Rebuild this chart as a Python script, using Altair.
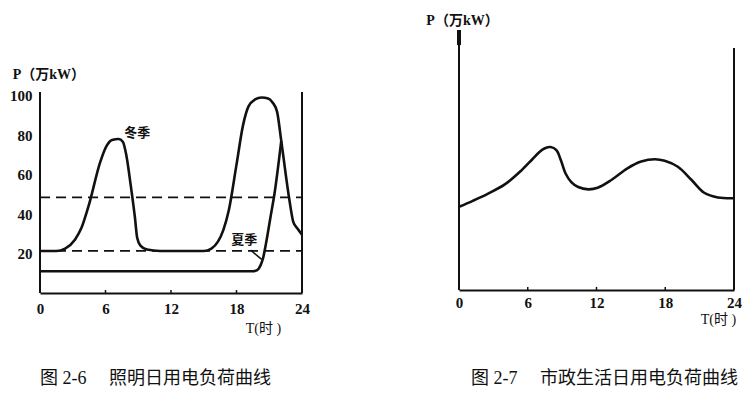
import altair as alt
import pandas as pd

# ---------------- data ----------------
hours = [0, 6, 12, 18, 24]
p_ticks = [20, 40, 60, 80, 100]

# Fig 2-6 : lighting load (万kW)
winter_t = [0, 1.5, 2.3, 3.2, 3.8, 4.5, 5.5, 6.1, 6.6, 7.2, 7.6, 7.9, 8.3, 8.7, 8.9, 9.2, 9.8, 11,
            15, 15.7, 16.3, 16.8, 17.3, 18, 18.6, 19.1, 19.7, 20.3, 20.9, 21.3, 21.72, 22.1, 22.85,
            23.2, 23.6, 24]
winter_p = [21.3, 21.3, 22.5, 27, 33, 45, 66, 74.5, 77.5, 78, 76.5, 70, 55, 38, 28, 24, 22, 21.3,
            21.3, 22.5, 26, 32, 42, 65, 85, 94.5, 98, 99, 98.5, 96.5, 91.7, 77, 47,
            36, 32.5, 29.5]
summer_t = [0, 19.5, 19.9, 20.2, 20.45, 20.7, 21.1, 21.5, 22.1]
summer_p = [11, 11, 11.6, 14, 18, 25, 38, 51, 77]
dash_levels = [48.4, 21.3]
leader_t = [19.3, 20.3]
leader_p = [21.7, 17]

# Fig 2-7 : municipal load (relative)
muni_t = [0, 1.2, 2.5, 4, 5.4, 6.4, 7.0, 7.5, 8.0, 8.5, 8.9, 9.3, 9.8, 10.4, 11.3, 12.1, 13.3,
          14.7, 15.9, 17.1, 17.95, 19.1, 20.3, 21.4, 22.6, 24]
muni_p = [32, 34.3, 37, 40.6, 45.8, 50.3, 53.0, 54.5, 55.0, 53.8, 49.8, 44.8, 41.5, 39.6, 38.7,
          39.3, 42.3, 46.8, 49.4, 50.3, 49.7, 47.4, 42.3, 37.4, 35.6, 35.3]

FONT = "Liberation Serif, Noto Sans CJK SC"
BLACK = "#111111"
GAP = "\u00a0\u00a0\u00a0\u00a0\u00a0"

# ---------------- panel 1 ----------------
X1 = alt.X("t:Q", scale=alt.Scale(domain=[0, 24], nice=False, zero=False),
           axis=alt.Axis(values=hours, format="d", title="T(时 )", grid=False, ticks=False,
                         domain=True, domainColor=BLACK, domainWidth=2, labelFlush=False,
                         labelFont=FONT, labelFontSize=15, labelFontWeight="bold",
                         labelColor=BLACK, labelPadding=8, labelAngle=0,
                         titleFont=FONT, titleFontSize=14, titleFontWeight="normal",
                         titleColor=BLACK, titleX=223, titleY=35, titleAlign="center",
                         titleBaseline="middle"))
Y1 = alt.Y("p:Q", scale=alt.Scale(domain=[0, 143.3], nice=False, zero=False),
           axis=alt.Axis(values=p_ticks, title=None, grid=False, ticks=False, domain=False,
                         labelFont=FONT, labelFontSize=15, labelFontWeight="bold",
                         labelColor=BLACK, labelPadding=8))

winter_df = pd.DataFrame({"t": winter_t, "p": winter_p})
summer_df = pd.DataFrame({"t": summer_t, "p": summer_p})
dash_df = pd.DataFrame({"t": [0] * len(dash_levels), "t2": [24] * len(dash_levels), "p": dash_levels})
frame1_df = pd.DataFrame({"t": [0, 24], "p": [0, 0], "p2": [101.8, 101.8]})
tick1_df = pd.DataFrame({"t": [6, 12, 18], "p": [0, 0, 0], "p2": [1.5, 1.5, 1.5]})
leader_df = pd.DataFrame({"t": leader_t, "p": leader_p})
lab1_df = pd.DataFrame({"t": [8.9, 18.7], "p": [80.8, 26.7], "label": ["冬季", "夏季"]})
ptitle1_df = pd.DataFrame({"t": [-2.5], "p": [110.3], "label": ["P（万kW）"]})

winter = alt.Chart(winter_df).mark_line(color=BLACK, strokeWidth=2.6, interpolate="monotone").encode(x=X1, y=Y1)
summer = alt.Chart(summer_df).mark_line(color=BLACK, strokeWidth=2.6, interpolate="monotone").encode(x=X1, y=Y1)
dashes = alt.Chart(dash_df).mark_rule(color=BLACK, strokeWidth=1.8, strokeDash=[10, 6]).encode(x=X1, x2="t2", y=Y1)
frame1 = alt.Chart(frame1_df).mark_rule(color=BLACK, strokeWidth=2).encode(x=X1, y=Y1, y2="p2")
ticks1 = alt.Chart(tick1_df).mark_rule(color=BLACK, strokeWidth=1.5).encode(x=X1, y=Y1, y2="p2")
leader = alt.Chart(leader_df).mark_line(color=BLACK, strokeWidth=1.5).encode(x=X1, y=Y1)
labels1 = alt.Chart(lab1_df).mark_text(font=FONT, fontSize=13, fontWeight="bold", color=BLACK,
                                       align="center", baseline="middle").encode(x=X1, y=Y1, text="label")
ptitle1 = alt.Chart(ptitle1_df).mark_text(font=FONT, fontSize=14, fontWeight="bold", color=BLACK,
                                          align="left", baseline="middle").encode(x=X1, y=Y1, text="label")

panel1 = alt.layer(frame1, ticks1, dashes, winter, summer, leader, labels1, ptitle1).properties(
    width=262, height=283,
    title=alt.TitleParams("图 2-6" + GAP + "照明日用电负荷曲线", orient="bottom", anchor="start",
                          frame="group", font=FONT, fontSize=18, fontWeight="normal", color=BLACK,
                          offset=35))

# ---------------- panel 2 ----------------
X2 = alt.X("t:Q", scale=alt.Scale(domain=[0, 24], nice=False, zero=False),
           axis=alt.Axis(values=hours, format="d", title="T(时 )", grid=False, ticks=False,
                         domain=True, domainColor=BLACK, domainWidth=2, labelFlush=False,
                         labelFont=FONT, labelFontSize=15, labelFontWeight="bold",
                         labelColor=BLACK, labelPadding=5, labelAngle=0,
                         titleFont=FONT, titleFontSize=14, titleFontWeight="normal",
                         titleColor=BLACK, titleX=259, titleY=29, titleAlign="center",
                         titleBaseline="middle"))
Y2 = alt.Y("p:Q", scale=alt.Scale(domain=[0, 107.7], nice=False, zero=False), axis=None)

muni_df = pd.DataFrame({"t": muni_t, "p": muni_p})
frame2_df = pd.DataFrame({"t": [0, 24], "p": [0, 0], "p2": [100, 93.1]})
arrow_df = pd.DataFrame({"t": [0], "p": [94.2], "p2": [100]})
tick2_df = pd.DataFrame({"t": [6, 12, 18], "p": [0, 0, 0], "p2": [1.2, 1.2, 1.2]})
ptitle2_df = pd.DataFrame({"t": [-2.85], "p": [103.5], "label": ["P（万kW）"]})

muni = alt.Chart(muni_df).mark_line(color=BLACK, strokeWidth=2.6, interpolate="catmull-rom").encode(x=X2, y=Y2)
frame2 = alt.Chart(frame2_df).mark_rule(color=BLACK, strokeWidth=2).encode(x=X2, y=Y2, y2="p2")
arrow2 = alt.Chart(arrow_df).mark_rule(color=BLACK, strokeWidth=4).encode(x=X2, y=Y2, y2="p2")
ticks2 = alt.Chart(tick2_df).mark_rule(color=BLACK, strokeWidth=1.5).encode(x=X2, y=Y2, y2="p2")
ptitle2 = alt.Chart(ptitle2_df).mark_text(font=FONT, fontSize=14, fontWeight="bold", color=BLACK,
                                          align="left", baseline="middle").encode(x=X2, y=Y2, text="label")

panel2 = alt.layer(frame2, arrow2, ticks2, muni, ptitle2).properties(
    width=275, height=280,
    title=alt.TitleParams("图 2-7" + GAP + "市政生活日用电负荷曲线", orient="bottom", anchor="start",
                          frame="group", dx=12, font=FONT, fontSize=18, fontWeight="normal",
                          color=BLACK, offset=44))

chart = alt.hconcat(panel1, panel2, spacing=116).properties(
    padding={"left": 1, "top": 2, "right": 0, "bottom": 0},
    background="white",
).configure_view(stroke=None)

chart.save("out.html", embed_options={"renderer": "svg", "actions": False})
